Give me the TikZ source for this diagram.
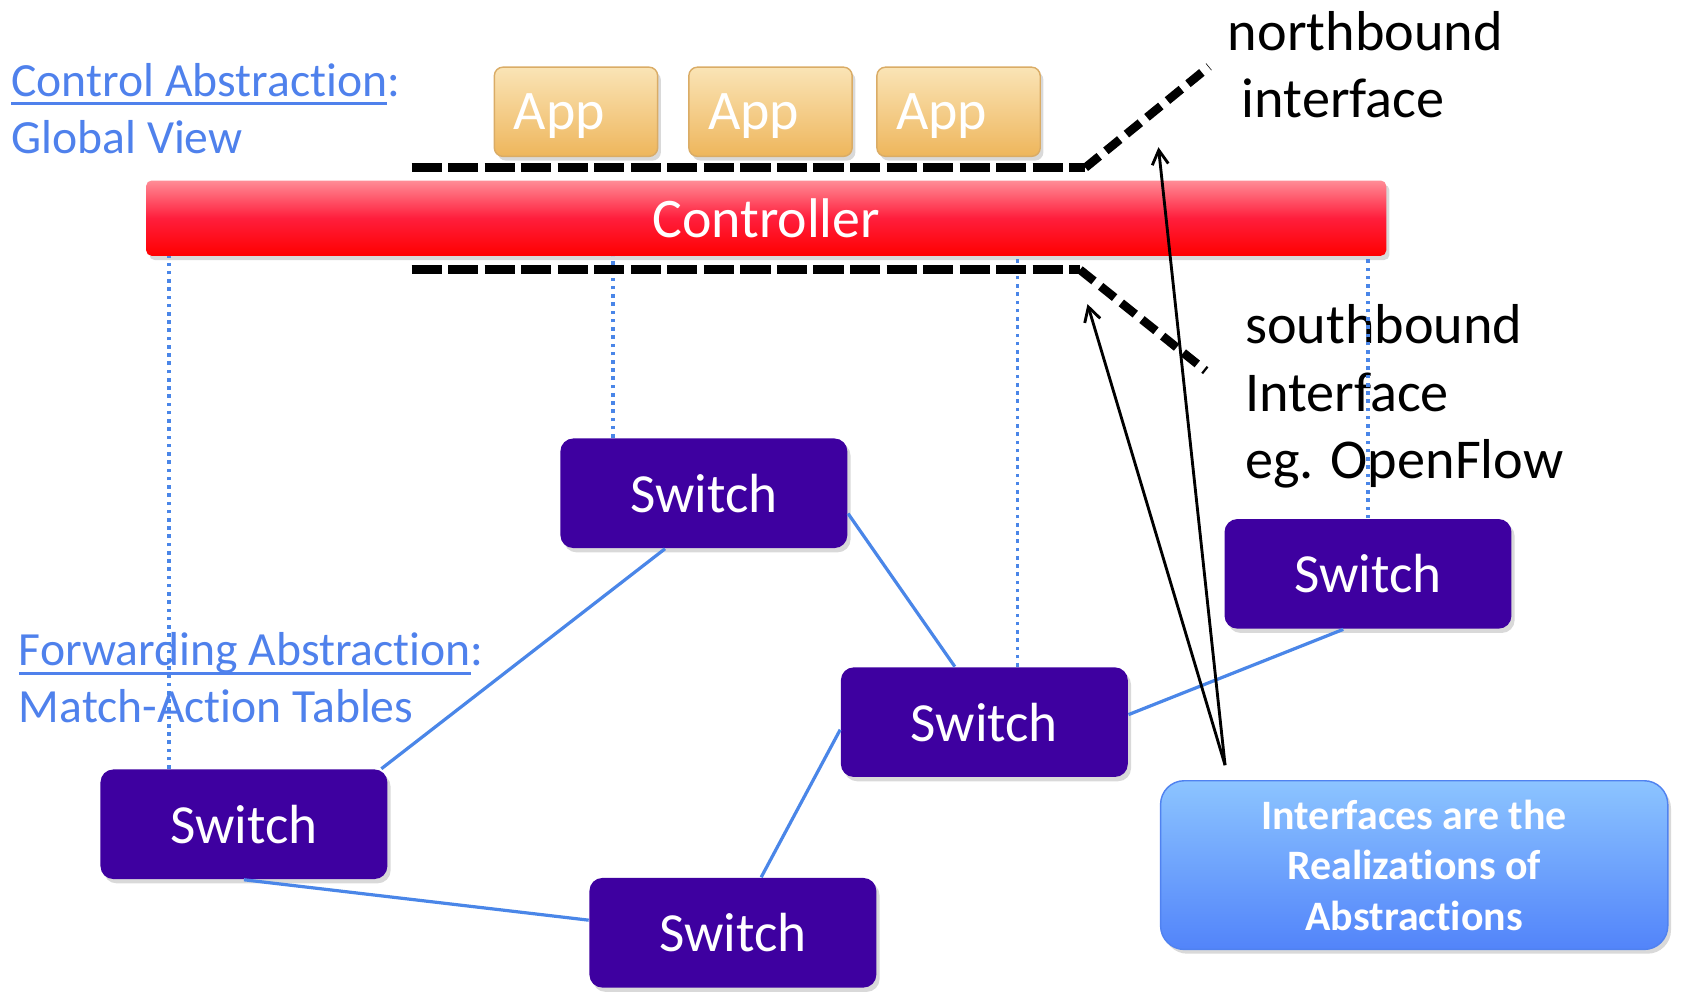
\documentclass[tikz,border=0pt]{standalone}
\usepackage{fontspec}
\setmainfont{Carlito}[Ligatures=NoCommon]
\usetikzlibrary{calc,arrows.meta,shadows}

\definecolor{absblue}{RGB}{79,129,236}
\definecolor{linkblue}{RGB}{74,134,232}
\definecolor{swpurple}{RGB}{62,0,160}
\definecolor{appTop}{RGB}{250,228,182}
\definecolor{appBot}{RGB}{238,182,92}
\definecolor{appEdge}{RGB}{218,172,102}
\definecolor{ctrlTop}{RGB}{255,140,150}
\definecolor{ctrlMid}{RGB}{255,30,60}
\definecolor{ctrlBot}{RGB}{255,0,0}
\definecolor{infoTop}{RGB}{140,196,255}
\definecolor{infoBot}{RGB}{82,132,250}
\definecolor{infoEdge}{RGB}{80,130,240}

% underline for the abstraction headings
\newcommand\ulabs[1]{\setbox0\hbox{#1}\rlap{\rule[-2.6pt]{\wd0}{0.9pt}}\box0}

\tikzset{
  shade/.style={drop shadow={shadow xshift=0.9pt,shadow yshift=-1.2pt,opacity=0.3}},
  appbox/.style={draw=appEdge,rounded corners=2.4pt,top color=appTop,bottom color=appBot,
    minimum width=45.6pt,minimum height=24.9pt,text=white,shade,
    inner xsep=5.4pt,text width=34.8pt,align=left,text height=13pt,text depth=3.1pt,
    font=\fontsize{15.6}{18}\selectfont},
  ctrlbox/.style={rounded corners=1.5pt,top color=ctrlTop,bottom color=ctrlBot,middle color=ctrlMid,
    minimum width=346.2pt,minimum height=21pt,text=white,shade,
    font=\fontsize{15.6}{18}\selectfont},
  switchbox/.style={fill=swpurple,rounded corners=3.6pt,minimum width=80.1pt,minimum height=30.6pt,
    text=white,shade,font=\fontsize{15.4}{18}\selectfont},
  infobox/.style={draw=infoEdge,rounded corners=6.6pt,top color=infoTop,bottom color=infoBot,
    minimum width=141.6pt,minimum height=47.1pt,text=white,align=center,shade,
    font=\fontsize{11.7}{14.1}\selectfont\bfseries},
  abslabel/.style={anchor=north west,inner sep=0pt,align=left,text=absblue,
    font=\fontsize{13.3}{16}\selectfont},
  ifacelabel/.style={anchor=north west,inner sep=0pt,align=left,
    font=\fontsize{15.7}{18.8}\selectfont},
  link/.style={linkblue,line width=0.9pt},
  ctrllink/.style={linkblue,line width=1.1pt,dash pattern=on 1pt off 1.3pt},
  iface/.style={line width=2.6pt,dash pattern=on 8.4pt off 1.8pt},
  ifaceslant/.style={line width=2.4pt,dash pattern=on 5pt off 2.4pt},
  realize/.style={line width=0.8pt,-{Straight Barb[length=4pt,width=4.5pt]}}
}

\begin{document}
\begin{tikzpicture}[x=0.3pt,y=-0.3pt]
\useasboundingbox (0,0) rectangle (1568,923);
% labels
\node[abslabel] (ctrlabs) at (10,58) {\ulabs{Control Abstraction}:\\Global View};
\node[abslabel] (fwdabs) at (17,588) {\ulabs{Forwarding Abstraction}:\\Match-Action Tables};
\node[ifacelabel] (nblabel) at (1142,10) {northbound\\\hspace*{3.9pt}interface};
\node[ifacelabel] (sblabel) at (1158,283) {southbound\\Interface\\eg. OpenFlow};
% apps and controller
\node[appbox] (app1) at (536,104) {App};
\node[appbox] (app2) at (717,104) {App};
\node[appbox] (app3) at (892,104) {App};
\node[ctrlbox] (ctrl) at (713,203) {Controller};
% switches
\node[switchbox] (swT) at (655,459) {Switch};
\node[switchbox] (swR) at (1273,534) {Switch};
\node[switchbox] (swM) at (916,672) {Switch};
\node[switchbox] (swL) at (227,767) {Switch};
\node[switchbox] (swB) at (682,868) {Switch};
\node[infobox] (info) at (1316,805) {Interfaces are the\\Realizations of\\Abstractions};
% control channels
\coordinate (cL) at ($(swL.north west)+(64,0)$);
\coordinate (cT) at ($(swT.north west)+(50,0)$);
\coordinate (cM) at ($(swM.north west)+(165,0)$);
\coordinate (cR) at (swR.north);
\foreach \c in {cL,cT,cM,cR}
  \draw[ctrllink] (\c) -- (\c |- ctrl.south);
% data links
\draw[link] (swT.235) -- (swL.22);
\draw[link] (swT.352) -- (swM.118);
\draw[link] (swM.183) -- (swB.63);
\draw[link] (swM.3) -- (swR.246);
\draw[link] (swL.south) -- (swB.175);
% interfaces
\coordinate (nbL) at (383,156);
\coordinate (nbR) at (1010,156);
\coordinate (nbE) at (1125,62);
\coordinate (sbL) at (383,251);
\coordinate (sbR) at (1005,251);
\coordinate (sbE) at (1122,345);
\draw[iface] (nbL) -- (nbR);
\draw[ifaceslant] (nbR) -- (nbE);
\draw[iface] (sbL) -- (sbR);
\draw[ifaceslant] (sbR) -- (sbE);
% arrows from the note
\coordinate (src) at (1140,712);
\coordinate (nbTip) at (1078,137);
\coordinate (sbTip) at (1012,283);
\draw[realize] (src) -- (nbTip);
\draw[realize] (src) -- (sbTip);
\end{tikzpicture}
\end{document}
